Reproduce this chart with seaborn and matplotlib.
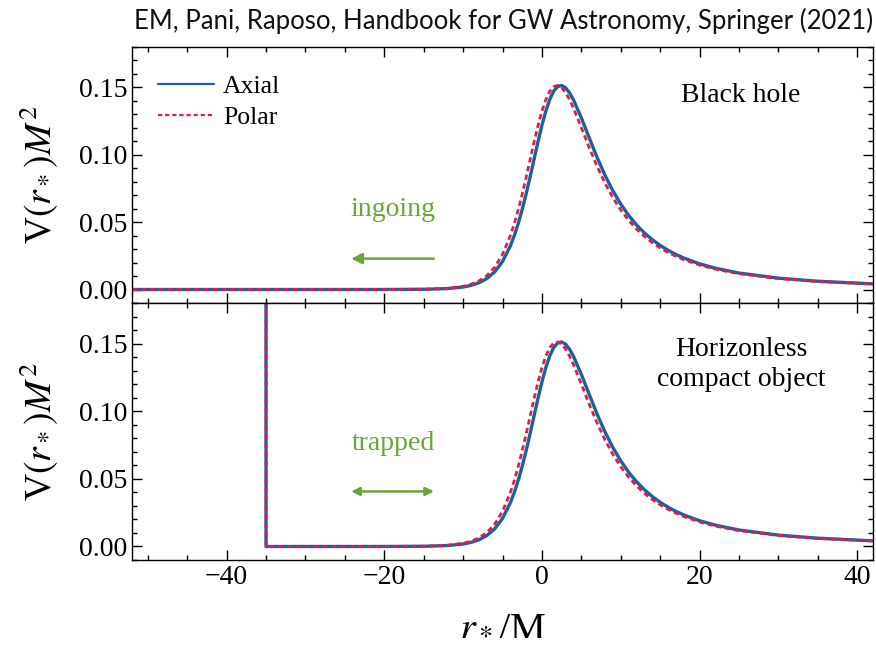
import matplotlib
matplotlib.use("Agg")
import matplotlib.pyplot as plt
import pandas as pd
import seaborn as sns

# ---- data ----
rstar = [-52, -40, -35, -30, -20, -15, -12, -10, -9, -8, -7, -6, -5, -4, -3.5, -3, -2.5,
         -2, -1.5, -1, -0.5, 0, 0.5, 1, 1.5, 2, 2.5, 3, 3.5, 4, 5, 6, 7, 8, 9, 10, 11,
         12, 13, 14, 15, 16, 17, 18, 20, 22, 25, 30, 35, 42]
v_axial = [0.0, 0.0, 0.0, 0.0, 0.000012, 0.000153, 0.000683, 0.00185, 0.003027, 0.00495,
           0.008061, 0.01301, 0.020742, 0.03238, 0.040033, 0.04903, 0.05936, 0.07094,
           0.08347, 0.09652, 0.10951, 0.12171, 0.13244, 0.14104, 0.14715, 0.15052,
           0.15122, 0.14955, 0.14586, 0.140625, 0.12725, 0.11237, 0.097868, 0.08469,
           0.07316, 0.06328, 0.05493, 0.047876, 0.04194, 0.036923, 0.03267, 0.029052,
           0.025964, 0.023309, 0.019025, 0.01577, 0.012205, 0.008412, 0.006115,
           0.004181]
v_polar = [0.0, 0.0, 0.0, 0.0, 0.000016, 0.000197, 0.000878, 0.002373, 0.003877, 0.006326,
           0.010262, 0.016461, 0.025993, 0.039987, 0.048961, 0.059274, 0.070796, 0.0833,
           0.096318, 0.10928, 0.12149, 0.13223, 0.14091, 0.14704, 0.1505, 0.15127,
           0.14962, 0.14598, 0.14076, 0.13443, 0.11998, 0.1051, 0.091157, 0.078769,
           0.068064, 0.058952, 0.05127, 0.044794, 0.03934, 0.03472, 0.030796, 0.02745,
           0.02459, 0.02212, 0.01813, 0.01508, 0.011726, 0.008131, 0.005937, 0.004079]
wall_rstar = -35      # reflective surface of the compact object
wall_top = 0.30       # wall drawn beyond the top of the frame

series_labels = ["Axial", "Polar"]
panel_labels = ["Black hole", "Horizonless\ncompact object"]
arrow_labels = ["ingoing", "trapped"]
title = "EM, Pani, Raposo, Handbook for GW Astronomy, Springer (2021)"
yticks = [0.00, 0.05, 0.10, 0.15]
xticks = [-40, -20, 0, 20, 40]

# ---- tables ----
bh = pd.DataFrame({"rstar": rstar, "Axial": v_axial, "Polar": v_polar})
keep = [i for i, x in enumerate(rstar) if x >= wall_rstar]
eco = pd.DataFrame({
    "rstar": [wall_rstar] + [rstar[i] for i in keep],
    "Axial": [wall_top] + [v_axial[i] for i in keep],
    "Polar": [wall_top] + [v_polar[i] for i in keep],
})

sns.set_theme(style="ticks")
plt.rcParams.update({
    "font.family": ["Liberation Serif", "DejaVu Serif"],
    "mathtext.fontset": "stix",
    "text.color": "black", "axes.labelcolor": "black",
    "axes.linewidth": 1.0,
    "axes.edgecolor": "black",
    "xtick.direction": "in", "ytick.direction": "in",
    "xtick.top": True, "ytick.right": True,
    "xtick.major.size": 7, "ytick.major.size": 7,
    "xtick.minor.size": 3.5, "ytick.minor.size": 3.5,
    "xtick.minor.visible": True, "ytick.minor.visible": True,
    "xtick.color": "black", "ytick.color": "black",
    "xtick.labelcolor": "black", "ytick.labelcolor": "black",
})

BLUE = "#1f5f9e"
RED = "#dc1f4a"
GREEN = "#6aa53a"

fig = plt.figure(figsize=(8.76, 6.53), dpi=100)
ax1 = fig.add_axes([0.1507, 0.5360, 0.8459, 0.3925])
ax2 = fig.add_axes([0.1507, 0.1424, 0.8459, 0.3936], sharex=ax1)

for ax, df in [(ax1, bh), (ax2, eco)]:
    sns.lineplot(data=df, x="rstar", y="Axial", ax=ax, color=BLUE, lw=2.4,
                 estimator=None, sort=False, label=series_labels[0])
    sns.lineplot(data=df, x="rstar", y="Polar", ax=ax, color=RED, lw=2.0,
                 estimator=None, sort=False, label=series_labels[1],
                 dashes=False, linestyle=(0, (1.9, 1.3)))
    ax.set_xlim(-52, 42)
    ax.set_ylim(-0.01, 0.18)
    ax.set_yticks(yticks)
    ax.set_yticklabels([f"{t:.2f}" for t in yticks])
    ax.yaxis.set_minor_locator(matplotlib.ticker.MultipleLocator(0.01))
    ax.xaxis.set_minor_locator(matplotlib.ticker.MultipleLocator(5))
    ax.tick_params(labelsize=20, which="both", width=1.0)
    ax.set_ylabel(r"V$(r_*)M^2$", fontsize=27, labelpad=13)
    for s in ax.spines.values():
        s.set_visible(True)

ax1.set_xticks(xticks)
ax1.tick_params(labelbottom=False)
ax1.set_xlabel("")
ax2.set_xticks(xticks)
ax2.set_xticklabels([f"{t}".replace("-", "\u2212") for t in xticks])
ax2.set_xlabel(r"$r_*$/M", fontsize=29, labelpad=12)

leg = ax1.legend(loc="upper left", frameon=False, fontsize=18.5, handlelength=2.2,
                 handletextpad=0.35, labelspacing=0.3, borderaxespad=0.6,
                 bbox_to_anchor=(0.0, 0.99))
for line in leg.get_lines():
    line.set_linewidth(1.6)
ax2.get_legend().remove()

ax1.text(0.822, 0.81, panel_labels[0], transform=ax1.transAxes, ha="center",
         va="center", fontsize=20)
ax2.text(0.822, 0.76, panel_labels[1], transform=ax2.transAxes, ha="center",
         va="center", fontsize=20, linespacing=1.25)

ax1.text(-18.9, 0.059, arrow_labels[0], ha="center", va="center", fontsize=20,
         color=GREEN)
ax1.annotate("", xy=(-24.2, 0.0229), xytext=(-13.7, 0.0229),
             arrowprops=dict(arrowstyle="-|>", color=GREEN, lw=1.8,
                             mutation_scale=16, shrinkA=0, shrinkB=0))
ax2.text(-18.9, 0.076, arrow_labels[1], ha="center", va="center", fontsize=20,
         color=GREEN)
ax2.annotate("", xy=(-24.2, 0.0407), xytext=(-13.7, 0.0407),
             arrowprops=dict(arrowstyle="<|-|>", color=GREEN, lw=1.8,
                             mutation_scale=12, shrinkA=0, shrinkB=0))

fig.text(0.9966, 0.968, title, ha="right", va="center", fontsize=18.5,
         family=["Lato", "DejaVu Sans"], color="#111111")

fig.savefig("out.png", dpi=100)
